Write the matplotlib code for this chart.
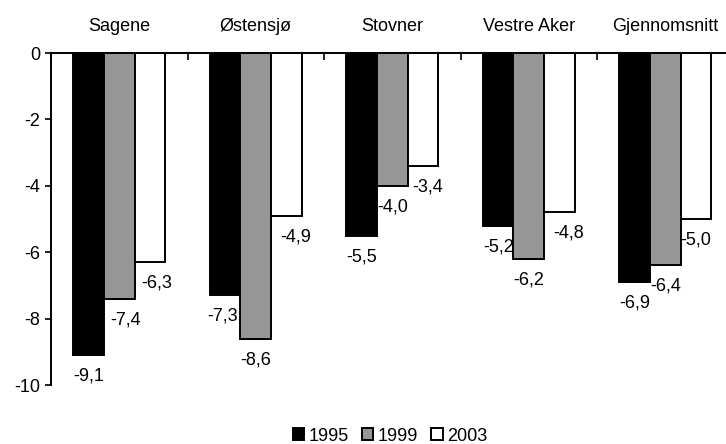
import matplotlib
matplotlib.use("Agg")
import matplotlib.pyplot as plt
import numpy as np
from matplotlib.transforms import offset_copy

plt.rcParams['font.family'] = ['Liberation Sans', 'DejaVu Sans']

categories = ["Sagene", "Østensjø", "Stovner", "Vestre Aker", "Gjennomsnitt"]
series_names = ["1995", "1999", "2003"]
v1995 = [-9.1, -7.3, -5.5, -5.2, -6.9]
v1999 = [-7.4, -8.6, -4.0, -6.2, -6.4]
v2003 = [-6.3, -4.9, -3.4, -4.8, -5.0]
yticks = [0, -2, -4, -6, -8, -10]

# layout / style (not data)
colors = ["#000000", "#969696", "#ffffff"]
label_dx = [[0, 6, 7], [-3, 0, 9], [0, 0, 5], [0, 0, 9], [0, 0, 0]]  # pixels
FS = 13

fig = plt.figure(figsize=(7.26, 4.44), dpi=100)
ax = fig.add_axes([51/726, 1-385/444, 682.5/726, 332/444])

x = np.arange(len(categories))
bw = 0.224
series = [v1995, v1999, v2003]
for si, vals in enumerate(series):
    xs = x + (si - 1) * bw
    ax.bar(xs, vals, width=bw, color=colors[si], edgecolor="black",
           linewidth=1.4, label=series_names[si], zorder=2)
    for ci, (xx, v) in enumerate(zip(xs, vals)):
        tr = offset_copy(ax.transData, fig=fig, x=label_dx[ci][si]*0.72,
                         y=-21*0.72, units='points')
        ax.text(xx, v, f"{v:.1f}".replace(".", ","), transform=tr,
                ha="center", va="center", fontsize=FS, color="black")

ax.set_xlim(-0.5, len(categories) - 0.5)
ax.set_ylim(-10, 0)
ax.set_yticks(yticks)
ax.set_yticklabels([str(t) for t in yticks])
ax.tick_params(axis='y', direction='out', length=4, width=1.2, labelsize=FS, pad=4)

ax.xaxis.tick_top()
ax.set_xticks(x)
ax.set_xticklabels(categories)
ax.tick_params(axis='x', which='major', length=0, labelsize=FS, pad=13)
ax.set_xticks(np.arange(len(categories) + 1) - 0.5, minor=True)
ax.tick_params(axis='x', which='minor', direction='in', length=5, width=1.2, top=True, bottom=False)

for s in ["right", "bottom"]:
    ax.spines[s].set_visible(False)
ax.spines["left"].set_linewidth(1.4)
ax.spines["top"].set_linewidth(1.4)
ax.spines["top"].set_zorder(3)

leg = fig.legend(loc="center", bbox_to_anchor=(390/726, 1-436/444), ncol=3,
                 frameon=False, handlelength=0.65, handleheight=0.65,
                 handletextpad=0.25, columnspacing=0.7, fontsize=FS,
                 borderaxespad=0)
for h in leg.legend_handles:
    h.set_linewidth(1.4)

fig.savefig("out.png", dpi=100)
